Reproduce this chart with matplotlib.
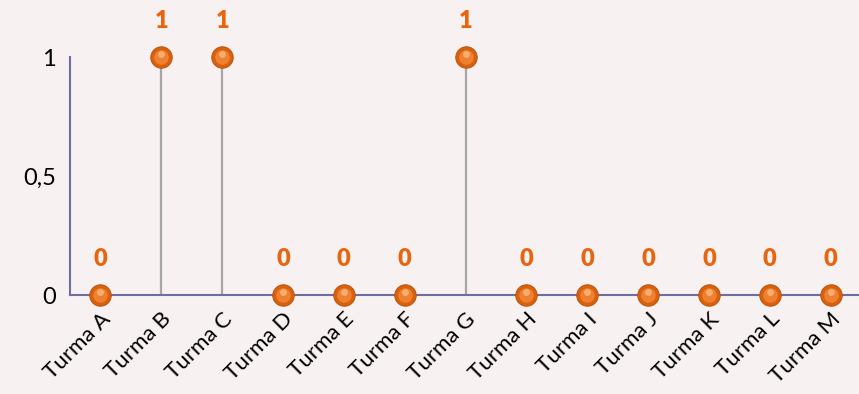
import matplotlib
matplotlib.use("Agg")
import matplotlib.pyplot as plt
import numpy as np

turmas = ["Turma A", "Turma B", "Turma C", "Turma D", "Turma E", "Turma F", "Turma G",
          "Turma H", "Turma I", "Turma J", "Turma K", "Turma L", "Turma M"]
valores = [0, 1, 1, 0, 0, 0, 1, 0, 0, 0, 0, 0, 0]
yticks = [0, 0.5, 1]
ytick_labels = ["0", "0,5", "1"]

bg = "#F7F1F1"
plt.rcParams['font.family'] = ['Lato', 'DejaVu Sans']

fig = plt.figure(figsize=(8.59, 3.94), dpi=100, facecolor=bg)
ax = fig.add_axes([70/859, 99/394, 791/859, 238/394])
ax.set_facecolor(bg)

x = np.arange(len(turmas))
y = np.array(valores)

# drop lines
ax.vlines(x, 0, y, color="#A6A6A6", lw=1.6, zorder=2)

# sphere-ish markers
ax.plot(x, y, 'o', ms=15.5, color="#D9600C", mec="#B5500C", mew=0.6, clip_on=False, zorder=4)
ax.plot(x, y, 'o', ms=10.5, color="#EE8030", mew=0, clip_on=False, zorder=5)
ax.plot(x, y + 0.012, 'o', ms=5, color="#F9B27A", mew=0, alpha=0.9, clip_on=False, zorder=6)

for xi, v in zip(x, valores):
    ax.annotate(str(v), (xi, v), xytext=(0, 21), textcoords="offset points",
                ha="center", va="baseline", color="#E8650F", fontsize=17,
                fontweight="heavy", annotation_clip=False)

ax.set_xlim(-0.5, 12.5)
ax.set_ylim(0, 1)
ax.set_xticks(x)
ax.set_xticklabels(turmas, rotation=45, ha="right", rotation_mode="anchor", fontsize=16)
ax.set_yticks(yticks)
ax.set_yticklabels(ytick_labels, fontsize=17)
ax.tick_params(axis="both", length=0)
ax.tick_params(axis="y", pad=10)
ax.tick_params(axis="x", pad=10)

for s in ["top", "right"]:
    ax.spines[s].set_visible(False)
for s in ["left", "bottom"]:
    ax.spines[s].set_color("#6E6EA0")
    ax.spines[s].set_linewidth(1.5)

fig.savefig("out.png", dpi=100, facecolor=bg)
